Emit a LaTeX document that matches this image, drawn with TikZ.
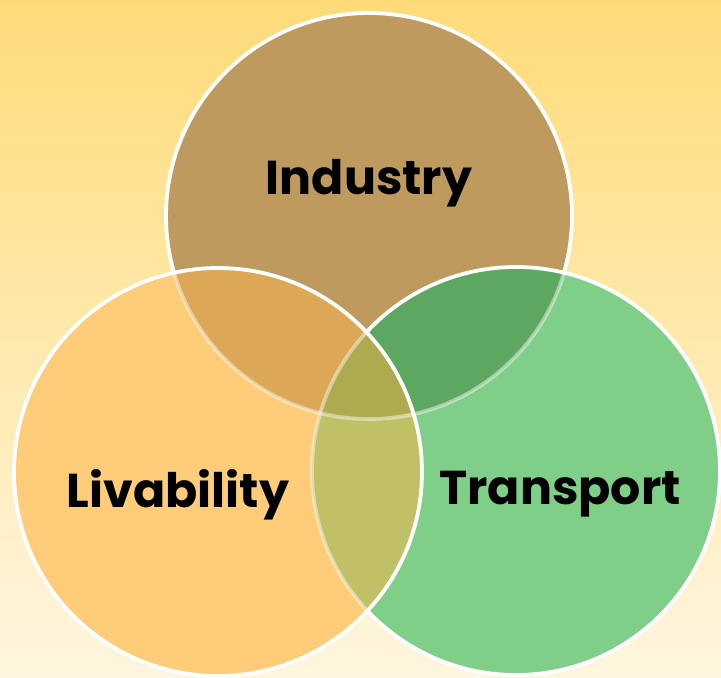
\documentclass[tikz,border=0pt]{standalone}
\usepackage{fontspec}
\setmainfont{Poppins}
\definecolor{bgtop}{HTML}{FFDB78}
\definecolor{bgbot}{HTML}{FFF6E0}
\definecolor{cI}{HTML}{BE9A5F}
\definecolor{cL}{HTML}{FFCD7A}
\definecolor{cT}{HTML}{80CF88}
\definecolor{cIL}{HTML}{DDA758}
\definecolor{cIT}{HTML}{5EA760}
\definecolor{cLT}{HTML}{C0C166}
\definecolor{cC}{HTML}{ADAA4F}
\begin{document}
\begin{tikzpicture}[x=1pt,y=-1pt,
  rim/.style={draw=white,line width=3.8pt},
  fadedrim/.style={draw=white,draw opacity=0.45,line width=3.8pt},
  lbl/.style={font=\bfseries\fontsize{47.5}{54}\selectfont,text=black,inner sep=0pt,anchor=base}]
\useasboundingbox (0,0) rectangle (721,678);
\shade[top color=bgtop,bottom color=bgbot] (0,0) rectangle (721,678);
% Industry
\fill[cI] (369,216) circle[radius=203];
\draw[rim] (369,216) circle[radius=203];
% Transport
\fill[cT] (516,471) circle[radius=204];
\begin{scope}
  \clip (369,216) circle[radius=203];
  \fill[cIT] (516,471) circle[radius=204];
\end{scope}
\begin{scope}
  \clip (516,471) circle[radius=204];
  \draw[fadedrim] (369,216) circle[radius=203];
\end{scope}
\draw[rim] (516,471) circle[radius=204];
% Livability
\fill[cL] (218,472) circle[radius=204];
\begin{scope}
  \clip (218,472) circle[radius=204];
  \fill[cIL] (369,216) circle[radius=203];
  \fill[cLT] (516,471) circle[radius=204];
  \begin{scope}
    \clip (369,216) circle[radius=203];
    \fill[cC] (516,471) circle[radius=204];
  \end{scope}
  \draw[fadedrim] (369,216) circle[radius=203];
  \draw[fadedrim] (516,471) circle[radius=204];
\end{scope}
\draw[rim] (218,472) circle[radius=204];
% labels
\node[lbl] (ind) at (369,194) {Industry};
\node[lbl] (liv) at (178,507) {Livability};
\node[lbl] (tra) at (560,504) {Transport};
\end{tikzpicture}
\end{document}
